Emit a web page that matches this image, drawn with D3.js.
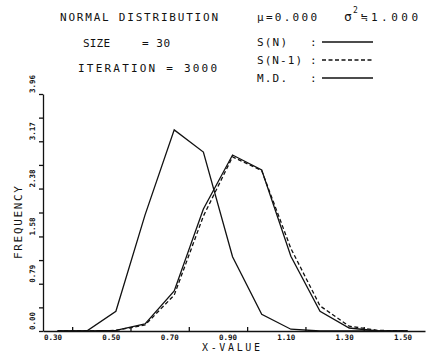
<!DOCTYPE html>
<html>
<head>
<meta charset="utf-8">
<script src="https://cdn.jsdelivr.net/npm/d3@7"></script>
<style>
  body { margin: 0; background: #fff; }
  text { font-family: "DejaVu Sans Mono", "Liberation Mono", monospace; fill: #111; }
</style>
</head>
<body>
<div id="container"></div>
<script>
// bin midpoints and frequencies
var xValues = [0.35, 0.45, 0.55, 0.65, 0.75, 0.85, 0.95, 1.05, 1.15, 1.25, 1.35, 1.45, 1.55]
var sN  = [0, 0, 0.01, 0.12, 0.67, 2.04, 2.94, 2.69, 1.25, 0.33, 0.05, 0, 0]
var sN1 = [0, 0, 0.01, 0.10, 0.60, 1.92, 2.91, 2.68, 1.38, 0.42, 0.08, 0.01, 0]
var md  = [0, 0, 0.33, 1.94, 3.36, 2.99, 1.24, 0.28, 0.03, 0, 0, 0, 0]

var xLabels = [0.30, 0.50, 0.70, 0.90, 1.10, 1.30, 1.50]
var xTicks = [0.40, 0.60, 0.80, 1.00, 1.20, 1.40]
var yLabels = [0.00, 0.79, 1.58, 2.38, 3.17, 3.96]

const width = 430, height = 355

const svg = d3.select('#container')
  .append('svg')
  .attr('width', width)
  .attr('height', height)

const x = d3.scaleLinear().domain([0.3, 1.61]).range([43, 425])
const y = d3.scaleLinear().domain([0, 3.96]).range([331, 94])

// x axis, small ticks pointing up between the labels
svg.append('g')
  .attr('transform', `translate(0, ${y(0)})`)
  .call(d3.axisBottom(x).tickValues(xTicks).tickSize(-4).tickSizeOuter(0).tickFormat(''))
  .call(g => g.selectAll('path, line').attr('stroke', '#111').attr('stroke-width', 1.3))

// y axis, major + half ticks pointing left
let yTicks = []
for (let i = 0; i < yLabels.length; i++) {
  yTicks.push(yLabels[i])
  if (i < yLabels.length - 1) yTicks.push((yLabels[i] + yLabels[i + 1]) / 2)
}
svg.append('g')
  .attr('transform', `translate(${x(0.3)}, 0)`)
  .call(d3.axisLeft(y).tickValues(yTicks).tickSize(4).tickSizeOuter(0).tickFormat(''))
  .call(g => g.selectAll('path, line').attr('stroke', '#111').attr('stroke-width', 1.3))

// tick labels start at the tick position (plotter style)
svg.selectAll('.xl')
  .data(xLabels)
  .enter()
  .append('text')
  .attr('x', d => x(d) + 1)
  .attr('y', y(0) + 9)
  .style('font-size', '7.5px')
  .style('font-weight', 'bold')
  .text(d => d.toFixed(2))

svg.selectAll('.yl')
  .data(yLabels)
  .enter()
  .append('text')
  .attr('transform', d => `translate(35, ${y(d) - 1}) rotate(-90)`)
  .style('font-size', '7.5px')
  .style('font-weight', 'bold')
  .text(d => d.toFixed(2))

// axis titles
svg.append('text')
  .attr('x', 202).attr('y', 351)
  .attr('textLength', 58).attr('lengthAdjust', 'spacing')
  .style('font-size', '10px')
  .text('X-VALUE')

svg.append('text')
  .attr('transform', 'translate(22, 259) rotate(-90)')
  .attr('textLength', 73).attr('lengthAdjust', 'spacing')
  .style('font-size', '11px')
  .text('FREQUENCY')

// curves
const line = d3.line()
  .x((d, i) => x(xValues[i]))
  .y(d => y(d))

const series = [
  { values: sN, dash: null },
  { values: sN1, dash: '4,2.5' },
  { values: md, dash: null }
]
svg.selectAll('.curve')
  .data(series)
  .enter()
  .append('path')
  .attr('d', d => line(d.values))
  .attr('fill', 'none')
  .attr('stroke', '#111')
  .attr('stroke-width', 1.3)
  .attr('stroke-dasharray', d => d.dash)

// header text
function txt(s, xx, yy, len, size) {
  let t = svg.append('text').attr('x', xx).attr('y', yy)
    .style('font-size', (size || 11) + 'px').text(s)
  if (len) t.attr('textLength', len).attr('lengthAdjust', 'spacing')
  return t
}
txt('NORMAL DISTRIBUTION', 60, 21, 158)
txt('SIZE', 83, 47, 27)
txt('= 30', 142, 47, 28)
txt('ITERATION = 3000', 78, 72, 139)
txt('\u03bc=0.000', 257, 21, 60)
txt('\u03c3', 344, 21, null, 13)
txt('2', 353, 13, null, 8)
txt('\u2252', 361, 21, null, 11)
txt('1.000', 371, 21, 47)

// legend
const legend = [
  { label: 'S(N)', y: 46, dash: null },
  { label: 'S(N-1)', y: 64, dash: '4,2.5' },
  { label: 'M.D.', y: 82, dash: null }
]
legend.forEach(function (d) {
  txt(d.label, 257, d.y, d.label.length * 7.5)
  txt(':', 310, d.y)
  svg.append('line')
    .attr('x1', 322).attr('x2', 373)
    .attr('y1', d.y - 4).attr('y2', d.y - 4)
    .attr('stroke', '#111')
    .attr('stroke-width', 1.3)
    .attr('stroke-dasharray', d.dash)
})
</script>
</body>
</html>
